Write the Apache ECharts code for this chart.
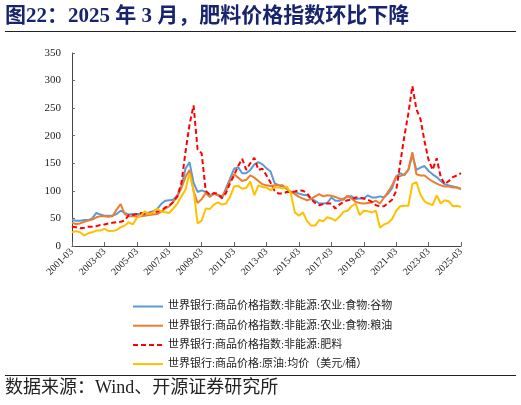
<!DOCTYPE html>
<html style="height: 100%">
<head>
    <meta charset="utf-8">
    <title>ECharts</title>
    <script src="https://cdn.jsdelivr.net/npm/echarts@6/dist/echarts.min.js"></script>
</head>
<body style="height: 100%; margin: 0; background: #fff">
<div id="main" style="width: 521px; height: 405px"></div>
<script type="text/javascript">
    // quarterly points, 2001-03 .. 2025-03
    var months = [];
    for (var y = 2001; y <= 2025; y++) {
        ['03', '06', '09', '12'].forEach(function (m) {
            if (y < 2025 || m === '03') months.push(y + '-' + m);
        });
    }

    var grains = [
        47, 46, 46, 47, 47, 50, 60, 57, 55, 55, 55, 58, 64, 60, 57, 58,
        58, 58, 58, 61, 63, 67, 76, 82, 83, 84, 92, 108, 140, 152, 115, 98,
        101, 98, 92, 95, 93, 86, 105, 122, 140, 143, 132, 132, 138, 148, 152, 148,
        141, 135, 114, 110, 108, 104, 98, 98, 95, 93, 92, 86, 82, 77, 77, 78,
        88, 82, 82, 86, 90, 90, 85, 86, 86, 92, 88, 88, 90, 88, 95, 105,
        126, 132, 128, 138, 165, 138, 142, 145, 136, 130, 125, 118, 112, 110, 108, 106,
        104
    ];
    var oils = [
        42, 40, 41, 44, 46, 48, 52, 54, 54, 53, 54, 66, 76, 58, 54, 54,
        54, 54, 55, 56, 57, 58, 62, 68, 72, 80, 90, 105, 125, 138, 100, 78,
        85, 96, 89, 95, 92, 90, 100, 118, 130, 124, 118, 120, 128, 124, 118, 112,
        110, 109, 110, 110, 110, 104, 98, 94, 89, 86, 83, 85, 90, 94, 90, 92,
        91, 89, 86, 84, 91, 86, 80, 78, 77, 78, 79, 82, 77, 88, 98, 110,
        126, 127, 130, 138, 170, 130, 128, 128, 122, 117, 113, 110, 108, 108, 106, 106,
        103
    ];
    var fertilizer = [
        35, 34, 32, 33, 35, 35, 36, 38, 39, 41, 42, 43, 44, 46, 56, 56,
        58, 60, 58, 59, 61, 62, 64, 70, 73, 80, 90, 114, 170, 220, 255, 175,
        168, 100, 93, 96, 95, 87, 96, 114, 128, 145, 158, 138, 150, 160, 138, 140,
        128, 115, 100, 95, 95, 98, 98, 99, 101, 100, 96, 85, 78, 74, 76, 77,
        77, 68, 75, 80, 83, 84, 88, 88, 86, 84, 80, 74, 72, 72, 78, 84,
        100, 150, 198, 240, 290, 248, 230, 190, 156, 138, 159, 125, 112, 118, 125, 128,
        132
    ];
    var crude = [
        25, 27, 25, 19, 23, 25, 28, 28, 31, 27, 27, 29, 34, 37, 43, 39,
        51, 55, 63, 58, 61, 68, 62, 61, 60, 68, 77, 90, 102, 132, 101, 41,
        46, 68, 67, 75, 79, 75, 77, 89, 108, 109, 104, 105, 117, 92, 110, 107,
        106, 101, 107, 106, 104, 108, 95, 61, 55, 61, 45, 37, 37, 47, 45, 52,
        50, 46, 53, 62, 64, 72, 77, 56, 64, 63, 61, 64, 33, 39, 42, 49,
        64, 72, 73, 73, 112, 116, 93, 81, 77, 74, 92, 77, 83, 81, 72, 73,
        71
    ];

    var names = [
        '世界银行:商品价格指数:非能源:农业:食物:谷物',
        '世界银行:商品价格指数:非能源:农业:食物:粮油',
        '世界银行:商品价格指数:非能源:肥料',
        '世界银行:商品价格:原油:均价（美元/桶）'
    ];

    var serif = '"Liberation Serif", "Times New Roman", serif';
    var cjk = '"Liberation Serif", "Noto Sans CJK SC", serif';

    function line(name, data, color, dashed) {
        return {
            name: name,
            type: 'line',
            data: data,
            symbol: 'none',
            lineStyle: { color: color, width: 2, type: dashed ? [5, 3] : 'solid' },
            itemStyle: { color: color }
        };
    }

    var myChart = echarts.init(document.getElementById('main'));
    myChart.setOption({
        backgroundColor: '#fff',
        animation: false,
        grid: { left: 72, right: 60, top: 53, bottom: 159 },
        legend: {
            orient: 'vertical',
            left: 127,
            top: 296,
            itemWidth: 30,
            itemHeight: 10,
            itemGap: 8.2,
            itemStyle: { opacity: 0 },
            textStyle: { fontSize: 11, color: '#222', fontFamily: cjk },
            data: names
        },
        xAxis: {
            type: 'category',
            data: months,
            boundaryGap: false,
            axisLine: { lineStyle: { color: '#444', width: 1 } },
            axisTick: { inside: true, interval: 7, length: 4, lineStyle: { color: '#666' } },
            axisLabel: {
                interval: 7, rotate: 45, fontSize: 10, color: '#222',
                fontFamily: serif, margin: 4
            }
        },
        yAxis: {
            type: 'value',
            min: 0, max: 350, interval: 50,
            splitLine: { show: false },
            axisLine: { show: true, lineStyle: { color: '#444', width: 1 } },
            axisTick: { show: true, inside: true, length: 3, lineStyle: { color: '#666' } },
            axisLabel: { fontSize: 11, color: '#222', fontFamily: serif, margin: 11 }
        },
        series: [
            line(names[0], grains, '#5b9bd5'),
            line(names[1], oils, '#ed7d31'),
            line(names[2], fertilizer, '#ff0000', true),
            line(names[3], crude, '#ffc000')
        ],
        graphic: [
            {
                type: 'text', left: 5, top: 6,
                style: {
                    text: '图22：2025 年 3 月，肥料价格指数环比下降',
                    font: 'bold 21px ' + cjk, fill: '#17246e'
                }
            },
            { type: 'rect', shape: { x: 5, y: 31, width: 511, height: 1 }, style: { fill: '#222' } },
            { type: 'rect', shape: { x: 5, y: 375, width: 511, height: 1 }, style: { fill: '#222' } },
            {
                type: 'text', left: 5, top: 379,
                style: {
                    text: '数据来源：Wind、开源证券研究所',
                    font: '18px ' + cjk, fill: '#222'
                }
            }
        ]
    });
</script>
</body>
</html>
